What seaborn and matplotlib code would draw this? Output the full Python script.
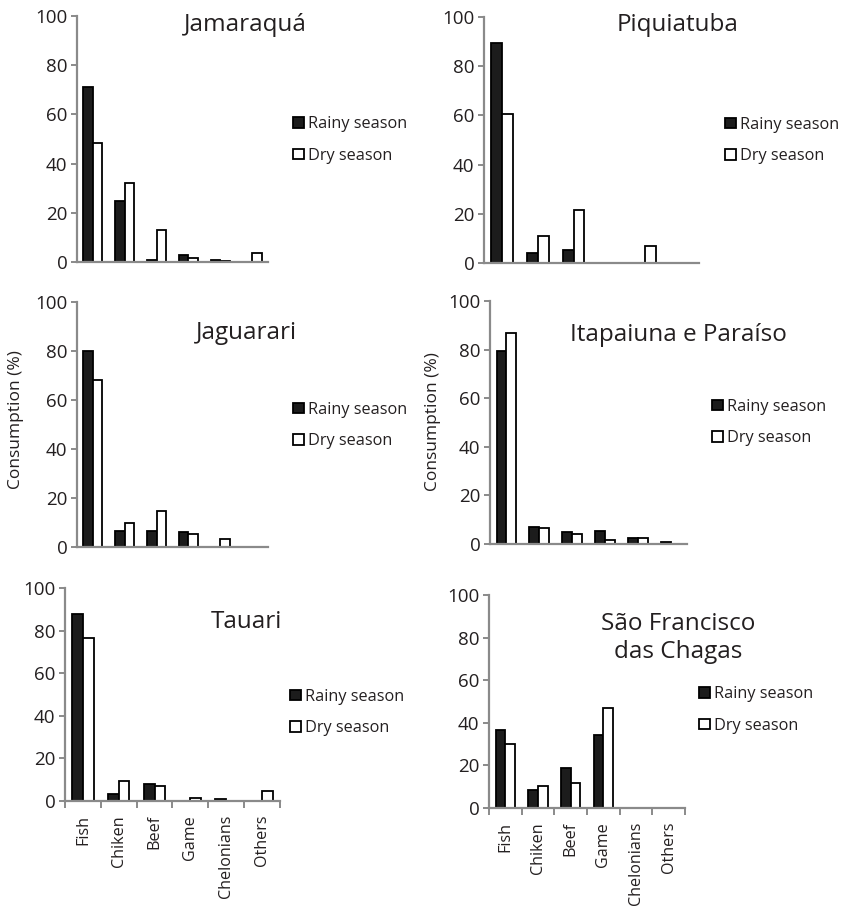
import matplotlib
matplotlib.use("Agg")
import matplotlib.pyplot as plt
import seaborn as sns
import pandas as pd

sns.set_style("white")
plt.rcParams['font.family'] = ['Open Sans', 'DejaVu Sans']

categories = ["Fish", "Chiken", "Beef", "Game", "Chelonians", "Others"]
seasons = ["Rainy season", "Dry season"]

jamaraqua_rainy = [71, 25, 1, 3, 1, 0]
jamaraqua_dry = [48.5, 32.2, 13.1, 1.6, 0.6, 3.8]
piquiatuba_rainy = [89.5, 4, 5.4, 0, 0, 0]
piquiatuba_dry = [60.5, 10.8, 21.4, 0, 6.8, 0]
jaguarari_rainy = [80, 6.4, 6.4, 6.1, 0, 0]
jaguarari_dry = [68, 9.8, 14.6, 5.2, 3.3, 0]
itapaiuna_rainy = [79.6, 7.1, 4.8, 5.2, 2.3, 0.8]
itapaiuna_dry = [86.7, 6.6, 4.2, 1.5, 2.5, 0]
tauari_rainy = [87.9, 3.5, 8.2, 0, 0.8, 0]
tauari_dry = [76.3, 9.4, 7.2, 1.4, 0, 4.9]
saofrancisco_rainy = [36.7, 8.3, 18.8, 34.2, 0, 0]
saofrancisco_dry = [30.1, 10.5, 11.6, 46.9, 0, 0]

titles = ["Jamaraquá", "Piquiatuba", "Jaguarari", "Itapaiuna e Paraíso",
          "Tauari", "São Francisco\ndas Chagas"]
series = [(jamaraqua_rainy, jamaraqua_dry), (piquiatuba_rainy, piquiatuba_dry),
          (jaguarari_rainy, jaguarari_dry), (itapaiuna_rainy, itapaiuna_dry),
          (tauari_rainy, tauari_dry), (saofrancisco_rainy, saofrancisco_dry)]

W, H = 844, 907
fig = plt.figure(figsize=(W / 100, H / 100), dpi=100)

# pixel boxes: left, right, top(y=100), bottom(y=0)
boxes = [(77, 268, 16, 262), (484, 699, 17, 263),
         (77, 268, 302, 547), (490, 687, 301, 544),
         (65, 280, 588, 801), (489, 685, 595, 808)]
title_pos = [(245, 25), (678, 25), (246, 333), (678, 335), (246, 622), (678, 638)]
legend_pos = [(293, 140), (725, 140.5), (293, 425.5), (712, 422.5), (290, 712.5), (699, 710)]

gray = "#8a8a8a"
textc = "#231f20"
palette = {"Rainy season": "#1c1c1c", "Dry season": "white"}

for i, (title, (rainy, dry)) in enumerate(zip(titles, series)):
    l, r, t, b = boxes[i]
    ax = fig.add_axes([l / W, (H - b) / H, (r - l) / W, (b - t) / H])
    df = pd.DataFrame({
        "category": categories * 2,
        "season": [seasons[0]] * 6 + [seasons[1]] * 6,
        "value": list(rainy) + list(dry),
    })
    sns.barplot(data=df, x="category", y="value", hue="season", order=categories,
                hue_order=seasons, palette=palette, edgecolor="black", linewidth=1.3,
                width=0.6, gap=0, ax=ax, legend=True, saturation=1)
    ax.set_ylim(0, 100)
    ax.set_xlim(-0.5, 5.5)
    ax.set_yticks([0, 20, 40, 60, 80, 100])
    for s in ["top", "right"]:
        ax.spines[s].set_visible(False)
    for s in ["left", "bottom"]:
        ax.spines[s].set_color(gray)
        ax.spines[s].set_linewidth(1.6)
    ax.set_xlabel("")
    ax.set_ylabel("")
    ax.tick_params(axis="y", which="major", direction="out", length=4, width=1.4,
                   color=gray, pad=3, labelsize=13.5, labelcolor=textc, left=True)
    if i >= 4:
        ax.set_xticks(range(6))
        ax.set_xticklabels(categories, rotation=90, fontsize=11.6, color=textc)
        ax.set_xticks([k - 0.5 for k in range(7)], minor=True)
        ax.tick_params(axis="x", which="major", length=0, pad=10)
        ax.tick_params(axis="x", which="minor", direction="out", length=5, width=1.4,
                       color=gray, bottom=True)
    else:
        ax.set_xticks([])
    handles = ax.get_legend().legend_handles
    ax.get_legend().remove()
    lx, ly = legend_pos[i]
    ax.legend(handles=handles, labels=seasons, loc="center left",
              bbox_to_anchor=(lx / W, 1 - ly / H), bbox_transform=fig.transFigure,
              frameon=False, fontsize=11.7, handlelength=0.65, handleheight=0.65,
              handletextpad=0.3, labelspacing=0.95, borderpad=0, borderaxespad=0,
              labelcolor=textc)
    tx, ty = title_pos[i]
    fig.text(tx / W, 1 - ty / H, title, ha="center", va="center", fontsize=17.5,
             color=textc, linespacing=1.25)

fig.text(16 / W, 1 - 420 / H, "Consumption (%)", rotation=90, ha="center",
         va="center", fontsize=12.5, color=textc)
fig.text(433 / W, 1 - 422 / H, "Consumption (%)", rotation=90, ha="center",
         va="center", fontsize=12.5, color=textc)

fig.savefig("out.png", dpi=100, facecolor="white")
